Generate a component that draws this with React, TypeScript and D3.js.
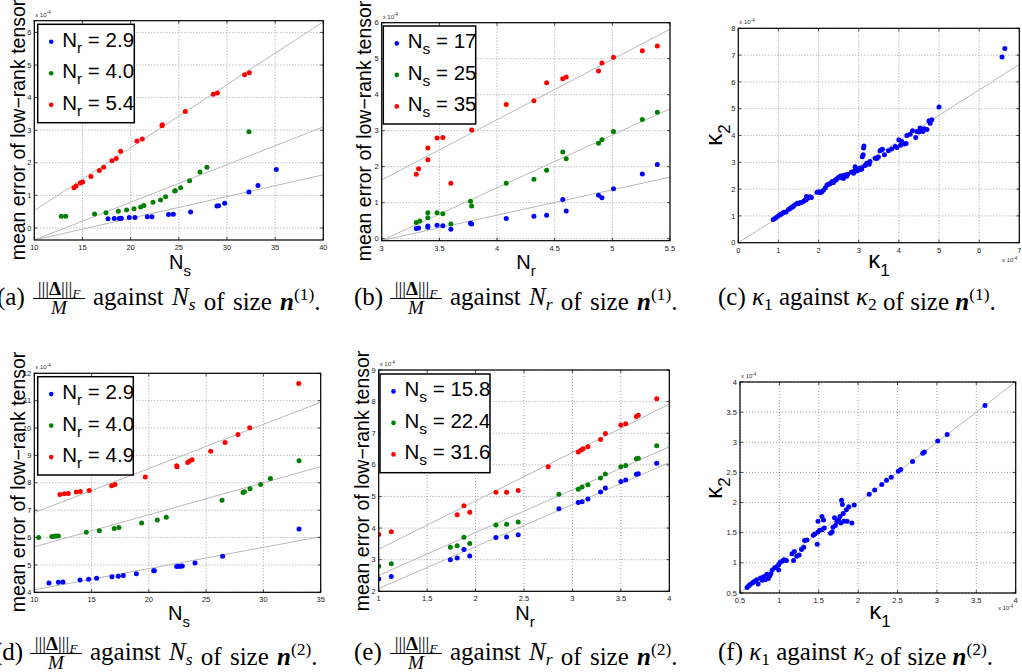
import React from 'react';
import * as d3 from 'd3';

// ---------- data ----------
// (a) error vs N_s, size n(1)
const aBlue = [[17.65,0.28],[18.30,0.29],[18.82,0.29],[19.03,0.30],[19.86,0.32],[20.45,0.32],[21.73,0.34],[22.21,0.34],[23.94,0.41],[24.43,0.42],[26.23,0.49],[28.96,0.67],[29.13,0.68],[29.76,0.76],[32.28,1.10],[33.22,1.30],[35.12,1.79]];
const aGreen = [[12.80,0.36],[13.25,0.36],[16.26,0.43],[17.44,0.47],[18.72,0.51],[19.58,0.55],[20.35,0.59],[21.04,0.64],[21.38,0.69],[22.32,0.79],[23.11,0.86],[23.63,0.96],[24.57,1.13],[24.64,1.14],[25.19,1.23],[26.12,1.45],[27.20,1.72],[27.92,1.86],[32.28,2.95]];
const aRed = [[14.12,1.23],[14.33,1.29],[14.78,1.38],[15.02,1.41],[15.88,1.58],[16.75,1.76],[17.20,1.86],[18.06,2.06],[18.51,2.13],[18.96,2.35],[20.66,2.67],[21.21,2.73],[23.25,3.14],[23.29,3.17],[25.67,3.57],[28.58,4.10],[29.00,4.14],[31.83,4.70],[32.32,4.76]];
const aFits = [[10,-0.37,40,1.63],[10,-0.37,40,3.10],[10,0.53,40,6.33]];
const aLegend = ['2.9','4.0','5.4'];
const aXTicks = [10,15,20,25,30,35,40];
const aYTicks = [0,1,2,3,4,5,6];

// (b) error vs N_r, size n(1)
const bBlue = [[3.30,0.28],[3.32,0.30],[3.40,0.35],[3.40,0.32],[3.48,0.37],[3.53,0.36],[3.60,0.26],[3.77,0.43],[3.78,0.41],[4.08,0.56],[4.32,0.62],[4.43,0.65],[4.57,1.09],[4.60,0.77],[4.88,1.21],[4.91,1.14],[5.01,1.39],[5.26,1.80],[5.39,2.06]];
const bGreen = [[3.30,0.45],[3.33,0.49],[3.40,0.72],[3.40,0.58],[3.48,0.72],[3.53,0.69],[3.60,0.41],[3.77,1.04],[3.78,0.91],[4.08,1.54],[4.32,1.65],[4.43,1.90],[4.57,2.41],[4.60,2.22],[4.88,2.65],[4.91,2.75],[5.01,2.98],[5.26,3.31],[5.39,3.51]];
const bRed = [[3.30,1.79],[3.32,1.94],[3.40,2.52],[3.40,2.19],[3.48,2.80],[3.53,2.81],[3.60,1.54],[3.78,3.02],[4.08,3.73],[4.32,3.83],[4.43,4.33],[4.57,4.44],[4.60,4.49],[4.88,4.66],[4.91,4.88],[5.01,5.04],[5.26,5.22],[5.39,5.35]];
const bFits = [[3,-0.05,5.5,1.71],[3,-0.05,5.5,3.61],[3,1.63,5.5,5.82]];
const bLegend = ['17','25','35'];
const bXTicks = [3,3.5,4,4.5,5,5.5];
const bYTicks = [0,1,2,3,4,5,6];

// (c) kappa1 vs kappa2, size n(1)
const cPoints = [[0.87,0.87],[0.92,0.91],[0.97,0.97],[1.02,1.02],[1.05,1.05],[1.08,1.08],[1.11,1.11],[1.14,1.14],[1.19,1.15],[1.25,1.24],[1.29,1.28],[1.32,1.31],[1.35,1.33],[1.38,1.38],[1.44,1.44],[1.47,1.47],[1.50,1.46],[1.53,1.49],[1.57,1.50],[1.63,1.55],[1.66,1.58],[1.69,1.61],[1.70,1.72],[1.73,1.66],[1.78,1.71],[1.82,1.69],[1.96,1.88],[2.00,1.90],[2.04,1.86],[2.08,1.90],[2.12,1.96],[2.17,2.05],[2.21,2.15],[2.25,2.18],[2.28,2.20],[2.31,2.23],[2.34,2.28],[2.37,2.25],[2.41,2.33],[2.44,2.35],[2.46,2.40],[2.51,2.45],[2.55,2.49],[2.56,2.43],[2.60,2.50],[2.62,2.40],[2.66,2.53],[2.70,2.48],[2.73,2.55],[2.82,2.64],[2.87,2.59],[2.89,2.68],[2.91,2.83],[2.94,2.74],[2.95,2.68],[2.99,2.71],[3.02,2.78],[3.04,2.75],[3.07,2.74],[3.08,2.80],[3.09,3.21],[3.11,3.28],[3.12,3.53],[3.13,3.61],[3.16,2.88],[3.20,2.96],[3.26,2.93],[3.28,3.03],[3.41,3.15],[3.45,3.14],[3.49,3.20],[3.53,3.43],[3.56,3.46],[3.59,3.49],[3.64,3.28],[3.74,3.43],[3.82,3.50],[3.91,3.59],[3.95,3.55],[4.00,3.84],[4.04,3.64],[4.07,3.78],[4.14,3.68],[4.18,3.70],[4.20,4.00],[4.28,4.05],[4.34,4.18],[4.42,3.93],[4.45,4.15],[4.50,4.13],[4.53,4.28],[4.58,4.21],[4.60,4.15],[4.63,4.25],[4.70,4.22],[4.75,4.55],[4.78,4.46],[4.82,4.59],[5.00,5.06],[6.57,6.93],[6.64,7.25]];
const cFits = [[0,0,7,6.65]];
const cXTicks = [0,1,2,3,4,5,6,7];
const cYTicks = [0,1,2,3,4,5,6,7,8];

// (d) error vs N_s, size n(2)
const dBlue = [[11.28,4.34],[12.10,4.37],[12.50,4.38],[13.99,4.45],[14.74,4.48],[15.44,4.51],[16.78,4.57],[17.33,4.59],[17.77,4.61],[18.91,4.68],[20.42,4.79],[20.48,4.79],[22.43,4.94],[22.60,4.95],[22.78,4.95],[22.92,4.96],[24.03,5.07],[26.44,5.32],[33.11,6.31]];
const dGreen = [[10.38,6.00],[11.54,6.04],[11.72,6.05],[11.89,6.06],[12.10,6.06],[14.54,6.19],[15.68,6.25],[16.98,6.33],[17.39,6.37],[19.37,6.53],[20.74,6.64],[21.52,6.74],[26.39,7.36],[28.22,7.65],[28.34,7.67],[28.83,7.78],[29.76,7.94],[30.61,8.16],[33.11,8.81]];
const dRed = [[12.24,7.57],[12.62,7.60],[12.97,7.61],[13.67,7.66],[14.02,7.68],[14.80,7.72],[16.75,7.89],[17.04,7.94],[19.69,8.21],[22.43,8.62],[22.46,8.59],[23.39,8.74],[23.53,8.79],[23.77,8.84],[25.40,9.15],[26.65,9.47],[27.78,9.76],[28.80,10.01],[33.08,11.63]];
const dFits = [[10,4.09,35,6.03],[10,5.66,35,8.59],[10,6.91,35,10.94]];
const dLegend = ['2.9','4.0','4.9'];
const dXTicks = [10,15,20,25,30,35];
const dYTicks = [4,5,6,7,8,9,10,11,12];

// (e) error vs N_r, size n(2)
const eBlue = [[1.00,2.39],[1.13,2.47],[1.74,3.00],[1.81,3.05],[1.88,3.32],[1.94,3.12],[2.21,3.70],[2.32,3.72],[2.44,3.79],[2.86,4.61],[3.06,4.81],[3.10,4.83],[3.16,4.92],[3.29,5.14],[3.34,5.27],[3.50,5.47],[3.55,5.52],[3.66,5.70],[3.68,5.72],[3.87,6.05]];
const eGreen = [[1.00,2.79],[1.13,2.87],[1.74,3.39],[1.81,3.44],[1.88,3.71],[1.94,3.51],[2.21,4.10],[2.32,4.12],[2.44,4.19],[2.86,5.07],[3.06,5.23],[3.10,5.30],[3.16,5.37],[3.29,5.58],[3.34,5.71],[3.50,5.94],[3.55,5.98],[3.66,6.19],[3.68,6.21],[3.87,6.60]];
const eRed = [[1.00,3.80],[1.13,3.88],[1.81,4.42],[1.88,4.71],[1.94,4.50],[2.21,5.13],[2.32,5.13],[2.44,5.19],[2.75,5.94],[3.06,6.41],[3.09,6.47],[3.11,6.51],[3.16,6.57],[3.29,6.80],[3.34,6.99],[3.50,7.26],[3.55,7.30],[3.66,7.53],[3.68,7.57],[3.87,8.09]];
const eFits = [[1,2.09,4,6.07],[1,2.50,4,6.57],[1,3.33,4,7.92]];
const eLegend = ['15.8','22.4','31.6'];
const eXTicks = [1,1.5,2,2.5,3,3.5,4];
const eYTicks = [2,3,4,5,6,7,8,9];

// (f) kappa1 vs kappa2, size n(2)
const fPoints = [[0.59,0.59],[0.61,0.62],[0.63,0.64],[0.66,0.67],[0.68,0.69],[0.71,0.72],[0.73,0.65],[0.76,0.75],[0.78,0.71],[0.80,0.77],[0.82,0.72],[0.84,0.81],[0.86,0.74],[0.88,0.79],[0.89,0.82],[0.91,0.88],[0.94,0.92],[0.97,0.94],[0.99,0.97],[0.99,0.88],[1.01,1.01],[1.04,1.03],[1.06,1.05],[1.09,1.04],[1.16,1.15],[1.18,1.04],[1.19,1.19],[1.22,1.11],[1.25,1.13],[1.28,1.22],[1.31,1.26],[1.32,1.37],[1.35,1.38],[1.43,1.46],[1.45,1.48],[1.48,1.31],[1.49,1.69],[1.49,1.51],[1.51,1.54],[1.54,1.55],[1.54,1.77],[1.56,1.71],[1.57,1.58],[1.65,1.49],[1.67,1.51],[1.68,1.59],[1.70,1.75],[1.71,1.62],[1.73,1.68],[1.75,1.71],[1.77,1.77],[1.78,1.66],[1.79,2.04],[1.80,1.97],[1.81,1.82],[1.82,1.69],[1.85,1.88],[1.86,1.69],[1.88,1.93],[1.92,1.66],[1.95,1.96],[2.14,2.14],[2.21,2.21],[2.30,2.30],[2.36,2.37],[2.42,2.42],[2.51,2.52],[2.54,2.55],[2.69,2.68],[2.82,2.82],[2.84,2.84],[3.01,3.02],[3.13,3.13],[3.61,3.61]];
const fFits = [[0.5,0.5,4,4]];
const fXTicks = [0.5,1,1.5,2,2.5,3,3.5,4];
const fYTicks = [0.5,1,1.5,2,2.5,3,3.5,4];

const BLUE = '#0000ff';
const GREEN = '#008000';
const RED = '#ff0000';
const SANS = 'Liberation Sans, Arial, Helvetica, sans-serif';
const SERIF = 'Liberation Serif, Times New Roman, serif';

type Fit = number[];
type Cfg = {
  id: string; left: number; right: number; top: number; bottom: number;
  xDomain: number[]; yDomain: number[]; xTicks: number[]; yTicks: number[];
  series: { pts: number[][]; color: string }[]; fits: Fit[];
  legend?: { x: number; y: number; w: number; h: number; sub: string; labels: string[] };
  xLabel: { text: string; sub: string; cx: number; base: number; kappa?: boolean };
  yLabel: { text: string; sub?: string; x: number; cy: number; kappa?: boolean };
  expBottom?: [number, number];
};

const Exp = ({ x, y }: { x: number; y: number }) => (
  <text x={x} y={y} fontSize={6} fontFamily={SANS} fill="#333">
    x 10<tspan dy={-2.5} fontSize={4.5}>-4</tspan>
  </text>
);

const Panel = ({ c }: { c: Cfg }) => {
  const x = d3.scaleLinear().domain(c.xDomain).range([c.left, c.right]);
  const y = d3.scaleLinear().domain(c.yDomain).range([c.bottom, c.top]);
  const w = c.right - c.left;
  const h = c.bottom - c.top;
  const clip = `clip-${c.id}`;
  const legendColors = [BLUE, GREEN, RED];
  return (
    <g>
      <defs>
        <clipPath id={clip}>
          <rect x={c.left} y={c.top} width={w} height={h} />
        </clipPath>
      </defs>
      <rect x={c.left} y={c.top} width={w} height={h} fill="#fff" />
      {/* grid */}
      <g stroke="#8a8a8a" strokeWidth={0.8} strokeDasharray="1 2">
        {c.xTicks.map(t => (
          <line key={'gx' + t} x1={x(t)} x2={x(t)} y1={c.top} y2={c.bottom} />
        ))}
        {c.yTicks.map(t => (
          <line key={'gy' + t} x1={c.left} x2={c.right} y1={y(t)} y2={y(t)} />
        ))}
      </g>
      {/* fitted lines */}
      <g clipPath={`url(#${clip})`} stroke="#b8b8b8" strokeWidth={1}>
        {c.fits.map((f, i) => (
          <line key={i} x1={x(f[0])} y1={y(f[1])} x2={x(f[2])} y2={y(f[3])} />
        ))}
      </g>
      {/* points */}
      <g clipPath={`url(#${clip})`}>
        {c.series.map((s, si) =>
          s.pts.map((p, i) => (
            <circle key={si + '-' + i} cx={x(p[0])} cy={y(p[1])} r={2.5} fill={s.color} />
          ))
        )}
      </g>
      {/* ticks */}
      <g stroke="#000" strokeWidth={0.7}>
        {c.xTicks.map(t => (
          <g key={'tx' + t}>
            <line x1={x(t)} x2={x(t)} y1={c.bottom} y2={c.bottom - 3} />
            <line x1={x(t)} x2={x(t)} y1={c.top} y2={c.top + 3} />
          </g>
        ))}
        {c.yTicks.map(t => (
          <g key={'ty' + t}>
            <line x1={c.left} x2={c.left + 3} y1={y(t)} y2={y(t)} />
            <line x1={c.right} x2={c.right - 3} y1={y(t)} y2={y(t)} />
          </g>
        ))}
      </g>
      <rect x={c.left} y={c.top} width={w} height={h} fill="none" stroke="#000" strokeWidth={1.2} />
      {/* tick labels */}
      <g fontFamily={SANS} fontSize={7.5} fill="#222">
        {c.xTicks.map(t => (
          <text key={'lx' + t} x={x(t)} y={c.bottom + 10} textAnchor="middle">{String(t)}</text>
        ))}
        {c.yTicks.map(t => (
          <text key={'ly' + t} x={c.left - 3} y={y(t)} dy="0.35em" textAnchor="end">{String(t)}</text>
        ))}
      </g>
      <Exp x={c.left + 1} y={c.top - 4} />
      {c.expBottom && <Exp x={c.expBottom[0]} y={c.expBottom[1]} />}
      {/* legend */}
      {c.legend && (
        <g>
          <rect x={c.legend.x} y={c.legend.y} width={c.legend.w} height={c.legend.h} fill="#fff" stroke="#000" strokeWidth={1.5} />
          {c.legend.labels.map((lab, i) => {
            const ry = c.legend!.y + 17.4 + i * 31.5;
            return (
              <g key={lab}>
                <circle cx={c.legend!.x + 13.5} cy={ry} r={2.3} fill={legendColors[i]} />
                <text x={c.legend!.x + 24.5} y={ry + 5} fontFamily={SANS} fontSize={20.5} fill="#000">
                  N<tspan fontSize={15.5} dy={6}>{c.legend!.sub}</tspan>
                  <tspan dy={-6}>{' = ' + lab}</tspan>
                </text>
              </g>
            );
          })}
        </g>
      )}
      {/* axis labels */}
      <text x={c.xLabel.cx} y={c.xLabel.base} textAnchor="middle" fontFamily={SANS}
        fontSize={c.xLabel.kappa ? 24 : 20} fill="#000">
        {c.xLabel.text}
        <tspan fontSize={c.xLabel.kappa ? 17 : 15} dy={c.xLabel.kappa ? 8 : 7}>{c.xLabel.sub}</tspan>
      </text>
      <text transform={`translate(${c.yLabel.x},${c.yLabel.cy}) rotate(-90)`} textAnchor="middle"
        fontFamily={SANS} fontSize={c.yLabel.kappa ? 24 : 19.5} fill="#000">
        {c.yLabel.text}
        {c.yLabel.sub && <tspan fontSize={17} dy={8}>{c.yLabel.sub}</tspan>}
      </text>
    </g>
  );
};

const errLabel = 'mean error of low\u2212rank tensor';

const panels: Cfg[] = [
  {
    id: 'a', left: 34.3, right: 323.3, top: 20.7, bottom: 240,
    xDomain: [10, 40], yDomain: [-0.37, 6.36], xTicks: aXTicks, yTicks: aYTicks,
    series: [{ pts: aBlue, color: BLUE }, { pts: aGreen, color: GREEN }, { pts: aRed, color: RED }],
    fits: aFits,
    legend: { x: 37.7, y: 24.3, w: 96.6, h: 98.4, sub: 'r', labels: aLegend },
    xLabel: { text: 'N', sub: 's', cx: 180, base: 269 },
    yLabel: { text: errLabel, x: 25, cy: 130 },
  },
  {
    id: 'b', left: 381.7, right: 670, top: 22.7, bottom: 240.7,
    xDomain: [3, 5.5], yDomain: [-0.056, 6], xTicks: bXTicks, yTicks: bYTicks,
    series: [{ pts: bBlue, color: BLUE }, { pts: bGreen, color: GREEN }, { pts: bRed, color: RED }],
    fits: bFits,
    legend: { x: 383.3, y: 26, w: 92.4, h: 98, sub: 's', labels: bLegend },
    xLabel: { text: 'N', sub: 'r', cx: 526, base: 269 },
    yLabel: { text: errLabel, x: 371, cy: 131 },
  },
  {
    id: 'c', left: 738.3, right: 1019.3, top: 28.3, bottom: 242.7,
    xDomain: [0, 7], yDomain: [0, 8], xTicks: cXTicks, yTicks: cYTicks,
    series: [{ pts: cPoints, color: BLUE }],
    fits: cFits,
    xLabel: { text: '\u03ba', sub: '1', cx: 879, base: 268, kappa: true },
    yLabel: { text: '\u03ba', sub: '2', x: 722, cy: 135, kappa: true },
    expBottom: [1002, 262],
  },
  {
    id: 'd', left: 34.3, right: 320.7, top: 373.3, bottom: 592.3,
    xDomain: [10, 35], yDomain: [4, 12], xTicks: dXTicks, yTicks: dYTicks,
    series: [{ pts: dBlue, color: BLUE }, { pts: dGreen, color: GREEN }, { pts: dRed, color: RED }],
    fits: dFits,
    legend: { x: 37.7, y: 376.7, w: 95.6, h: 98.3, sub: 'r', labels: dLegend },
    xLabel: { text: 'N', sub: 's', cx: 179, base: 620 },
    yLabel: { text: errLabel, x: 25, cy: 482 },
  },
  {
    id: 'e', left: 378.7, right: 669.3, top: 370, bottom: 591.3,
    xDomain: [1, 4], yDomain: [2, 9], xTicks: eXTicks, yTicks: eYTicks,
    series: [{ pts: eBlue, color: BLUE }, { pts: eGreen, color: GREEN }, { pts: eRed, color: RED }],
    fits: eFits,
    legend: { x: 380, y: 374, w: 110, h: 98.7, sub: 's', labels: eLegend },
    xLabel: { text: 'N', sub: 'r', cx: 525, base: 620 },
    yLabel: { text: errLabel, x: 369, cy: 481 },
  },
  {
    id: 'f', left: 740, right: 1015.7, top: 382, bottom: 593,
    xDomain: [0.5, 4], yDomain: [0.5, 4], xTicks: fXTicks, yTicks: fYTicks,
    series: [{ pts: fPoints, color: BLUE }],
    fits: fFits,
    xLabel: { text: '\u03ba', sub: '1', cx: 880, base: 619, kappa: true },
    yLabel: { text: '\u03ba', sub: '2', x: 722, cy: 488, kappa: true },
    expBottom: [998, 610],
  },
];

// ---------- captions ----------
const F = 25;
const S = 17.5;

const SizeN = ({ sup }: { sup: string }) => (
  <>
    <tspan dy={0}> of size </tspan>
    <tspan fontWeight="bold" fontStyle="italic">n</tspan>
    <tspan fontSize={S} dy={-10}>{sup}</tspan>
    <tspan dy={10}>.</tspan>
  </>
);

const FracCaption = ({ x0, base, label, sub, sup }: { x0: number; base: number; label: string; sub: string; sup: string }) => {
  const fx = x0 + 36;
  const fw = 52;
  return (
    <g fontFamily={SERIF} fill="#000">
      <text x={x0} y={base} fontSize={F}>{label}</text>
      <text x={fx + fw / 2} y={base - 10} fontSize={19} textAnchor="middle">
        |||<tspan fontWeight="bold">{'\u0394'}</tspan>|||<tspan fontStyle="italic" fontSize={13} dy={3}>F</tspan>
      </text>
      <line x1={fx} x2={fx + fw} y1={base - 6.5} y2={base - 6.5} stroke="#000" strokeWidth={1} />
      <text x={fx + fw / 2} y={base + 8.5} fontSize={19} fontStyle="italic" textAnchor="middle">M</text>
      <text x={fx + fw + 8} y={base} fontSize={F} wordSpacing={2}>
        against <tspan fontStyle="italic">N</tspan>
        <tspan fontStyle="italic" fontSize={S} dy={5}>{sub}</tspan>
        <tspan dy={-5}>{''}</tspan>
        <SizeN sup={sup} />
      </text>
    </g>
  );
};

const KappaCaption = ({ x0, base, label, sup }: { x0: number; base: number; label: string; sup: string }) => (
  <g fontFamily={SERIF} fill="#000">
    <text x={x0} y={base} fontSize={F}>
      {label + ' '}
      <tspan fontStyle="italic">{'\u03ba'}</tspan>
      <tspan fontSize={S} dy={5}>1</tspan>
      <tspan dy={-5}> against </tspan>
      <tspan fontStyle="italic">{'\u03ba'}</tspan>
      <tspan fontSize={S} dy={5}>2</tspan>
      <tspan dy={-5}>{''}</tspan>
      <SizeN sup={sup} />
    </text>
  </g>
);

export default function App() {
  return (
    <svg width={1022} height={672} style={{ position: 'absolute', left: 0, top: 0, background: '#fff' }}>
      <rect x={0} y={0} width={1022} height={672} fill="#fff" />
      {panels.map(p => <Panel key={p.id} c={p} />)}
      <FracCaption x0={-3} base={305} label="(a)" sub="s" sup="(1)" />
      <FracCaption x0={354} base={305} label="(b)" sub="r" sup="(1)" />
      <KappaCaption x0={718} base={305} label="(c)" sup="(1)" />
      <FracCaption x0={-6} base={660} label="(d)" sub="s" sup="(2)" />
      <FracCaption x0={354} base={660} label="(e)" sub="r" sup="(2)" />
      <KappaCaption x0={718} base={660} label="(f)" sup="(2)" />
    </svg>
  );
}
